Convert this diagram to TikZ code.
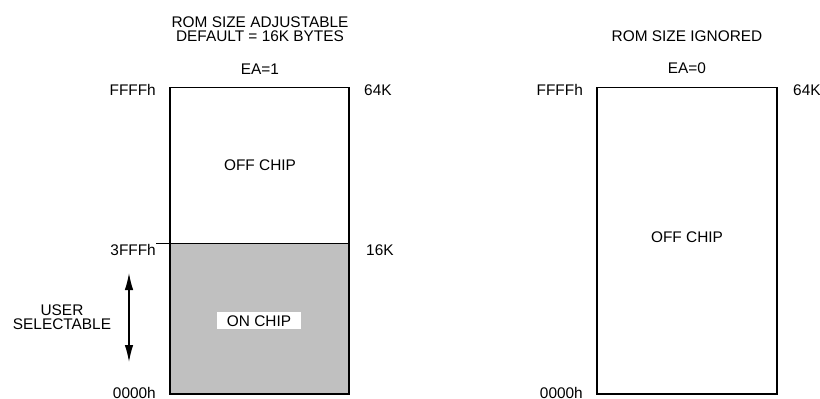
\documentclass[tikz,border=0pt]{standalone}
\usepackage{fontspec}
\setmainfont{Liberation Sans}
\usetikzlibrary{arrows.meta}
\begin{document}
\begin{tikzpicture}[x=1pt,y=-1pt,
  lbl/.style={inner sep=0pt,font=\fontsize{15.4}{14}\selectfont},
  box/.style={line width=1.2pt,draw=black},
  sel/.style={line width=1.2pt,{Latex[length=17pt,width=8.5pt]}-{Latex[length=17pt,width=8.5pt]}}]
\useasboundingbox (0,0) rectangle (820,399);
% left memory map
\coordinate (LTL) at (170,87.5);
\coordinate (LBR) at (349,394);
\coordinate (LDL) at (156,243.5);
\coordinate (LDR) at (349,243.5);
\fill[fill={rgb,255:red,192;green,192;blue,192}] (170,243.5) rectangle (LBR);
\draw[box] (LTL) rectangle (LBR);
\draw[box] (LDL) -- (LDR);
% right memory map
\coordinate (RTL) at (597,87.5);
\coordinate (RBR) at (777,394);
\draw[box] (RTL) rectangle (RBR);
% titles
\node[lbl,align=center,anchor=base] (t1) at (260,41) {ROM SIZE ADJUSTABLE\\DEFAULT = 16K BYTES};
\node[lbl,anchor=base] (ea1) at (260,74) {EA=1};
\node[lbl,anchor=base] (t2) at (687,41) {ROM SIZE IGNORED};
\node[lbl,anchor=base] (ea0) at (687,73) {EA=0};
% left labels
\node[lbl,anchor=base east] (lf) at (156,95) {FFFFh};
\node[lbl,anchor=base west] (l64) at (364,95) {64K};
\node[lbl,anchor=base east] (l3f) at (156,255) {3FFFh};
\node[lbl,anchor=base west] (l16) at (366,255) {16K};
\node[lbl,anchor=base east] (l00) at (156,398) {0000h};
\node[lbl,anchor=base] (loff) at (260,170.5) {OFF CHIP};
\node[lbl,anchor=base,fill=white,inner xsep=10pt,inner ysep=3pt] (lon) at (259,326) {ON CHIP};
\node[lbl,align=center,anchor=base] (usr) at (62,329) {USER\\SELECTABLE};
\coordinate (at) at (129,273);
\coordinate (ab) at (129,362);
\draw[sel] (at) -- (ab);
% right labels
\node[lbl,anchor=base east] (rf) at (583,95) {FFFFh};
\node[lbl,anchor=base west] (r64) at (793,95) {64K};
\node[lbl,anchor=base east] (r00) at (583,398) {0000h};
\node[lbl,anchor=base] (roff) at (687,242.5) {OFF CHIP};
\end{tikzpicture}
\end{document}
